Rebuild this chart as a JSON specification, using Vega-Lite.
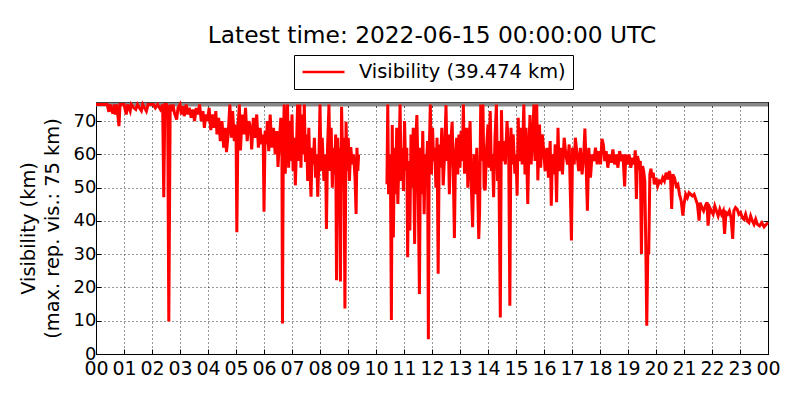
{
  "$schema": "https://vega.github.io/schema/vega-lite/v6.json",
  "width": 672,
  "height": 252,
  "autosize": {"type": "none"},
  "padding": {"left": 96, "top": 102, "right": 32, "bottom": 46},
  "config": {
    "font": "DejaVu Sans",
    "view": {"stroke": "black", "strokeWidth": 1},
    "axis": {
      "labelFont": "DejaVu Sans", "labelFontSize": 18, "labelColor": "black",
      "titleFont": "DejaVu Sans", "titleFontSize": 19.4, "titleFontWeight": "normal", "titleColor": "black",
      "domainColor": "black", "tickColor": "black", "tickSize": -5, "tickWidth": 1,
      "gridColor": "black", "gridDash": [1, 3], "gridOpacity": 0.8, "gridWidth": 1
    }
  },
  "title": {
    "text": "Latest time: 2022-06-15 00:00:00 UTC",
    "font": "DejaVu Sans", "fontSize": 23.3, "fontWeight": "normal", "color": "black",
    "anchor": "middle", "frame": "group", "baseline": "alphabetic", "offset": 14, "dy": 26
  },
  "layer": [
    {
      "data": {"values": [{}]},
      "mark": {"type": "rule", "color": "#888888", "strokeWidth": 4},
      "encoding": {
        "y": {"datum": 75, "type": "quantitative", "scale": {"domain": [0, 75.75], "nice": false},
          "axis": {"orient": "right", "values": [0,10,20,30,40,50,60,70], "labels": false, "grid": false, "title": null, "domain": false}}
      }
    },
    {
      "data": {"values": [
        {"h":0,"v":75},{"h":0.4,"v":75},{"h":0.46,"v":72.8},{"h":0.5,"v":75},{"h":0.6,"v":72.3},{"h":0.65,"v":75},{"h":0.69,"v":72},{"h":0.74,"v":75},{"h":0.82,"v":68.5},{"h":0.86,"v":75},{"h":1.0,"v":75},{"h":1.08,"v":72},{"h":1.13,"v":75},{"h":1.22,"v":73},{"h":1.26,"v":75},{"h":1.35,"v":74},{"h":1.42,"v":73.5},{"h":1.48,"v":75},{"h":1.55,"v":74},{"h":1.62,"v":73.1},{"h":1.67,"v":75},{"h":1.8,"v":73},{"h":1.86,"v":75},{"h":2.05,"v":75},{"h":2.12,"v":74},{"h":2.2,"v":75},{"h":2.3,"v":73.5},{"h":2.38,"v":75},{"h":2.42,"v":47.1},{"h":2.46,"v":75},{"h":2.52,"v":75},{"h":2.56,"v":74},{"h":2.6,"v":9.8},{"h":2.65,"v":75},
        {"h":2.7,"v":73},{"h":2.75,"v":75},{"h":2.8,"v":72.5},{"h":2.88,"v":70.5},{"h":2.93,"v":74},{"h":3.0,"v":75},{"h":3.05,"v":72},{"h":3.1,"v":74.5},{"h":3.15,"v":71.5},{"h":3.22,"v":75},{"h":3.28,"v":72},{"h":3.33,"v":74},{"h":3.4,"v":71},{"h":3.46,"v":73.5},{"h":3.52,"v":70},{"h":3.58,"v":74},{"h":3.64,"v":72},{"h":3.7,"v":75},{"h":3.76,"v":70},{"h":3.82,"v":73},{"h":3.87,"v":68},{"h":3.92,"v":72},{"h":3.98,"v":70},{"h":4.04,"v":74},{"h":4.1,"v":67.3},{"h":4.16,"v":72},{"h":4.22,"v":68},{"h":4.28,"v":73},{"h":4.32,"v":66},{"h":4.38,"v":71},{"h":4.44,"v":64},{"h":4.5,"v":70},{"h":4.56,"v":62},{"h":4.62,"v":68},{"h":4.66,"v":60.7},{"h":4.72,"v":66},{"h":4.78,"v":75},{"h":4.84,"v":65},{"h":4.88,"v":73},{"h":4.94,"v":64},{"h":5.0,"v":69},{"h":5.03,"v":36.6},{"h":5.07,"v":68},{"h":5.12,"v":75},{"h":5.16,"v":61.2},{"h":5.22,"v":72},{"h":5.28,"v":66},{"h":5.34,"v":74},{"h":5.4,"v":64},{"h":5.46,"v":70},{"h":5.52,"v":68},{"h":5.56,"v":61.5},{"h":5.62,"v":71},{"h":5.68,"v":65},{"h":5.74,"v":72},{"h":5.8,"v":62},{"h":5.86,"v":68},{"h":5.92,"v":63},{"h":5.97,"v":66},{"h":6.0,"v":42.8},{"h":6.04,"v":67},{"h":6.08,"v":63},{"h":6.12,"v":70},{"h":6.17,"v":61},{"h":6.22,"v":72},{"h":6.28,"v":62},{"h":6.34,"v":68},{"h":6.4,"v":60},{"h":6.46,"v":67},{"h":6.5,"v":56.2},{"h":6.55,"v":64},{"h":6.6,"v":71},{"h":6.64,"v":60},{"h":6.66,"v":9.2},{"h":6.69,"v":63},{"h":6.72,"v":75},{"h":6.76,"v":54.2},{"h":6.8,"v":68},{"h":6.84,"v":75},{"h":6.88,"v":56},{"h":6.92,"v":70},{"h":6.96,"v":58},{"h":7.0,"v":72},{"h":7.04,"v":55},{"h":7.08,"v":65},{"h":7.12,"v":50.7},{"h":7.16,"v":62},{"h":7.2,"v":75},{"h":7.24,"v":58},{"h":7.28,"v":75},{"h":7.32,"v":56},{"h":7.36,"v":72},{"h":7.4,"v":60},{"h":7.44,"v":75},{"h":7.48,"v":57.7},{"h":7.52,"v":66},{"h":7.56,"v":52},{"h":7.6,"v":68},{"h":7.64,"v":55},{"h":7.68,"v":47.3},{"h":7.72,"v":62},{"h":7.76,"v":57},{"h":7.8,"v":65},{"h":7.84,"v":53},{"h":7.88,"v":60},{"h":7.92,"v":47.3},{"h":7.96,"v":58},{"h":8.0,"v":75},{"h":8.04,"v":55},{"h":8.08,"v":65},{"h":8.14,"v":52},{"h":8.2,"v":60},{"h":8.23,"v":37.6},{"h":8.27,"v":62},{"h":8.32,"v":75},{"h":8.36,"v":55},{"h":8.4,"v":68},{"h":8.44,"v":50},{"h":8.48,"v":62},{"h":8.52,"v":54},{"h":8.56,"v":66},{"h":8.59,"v":22.2},{"h":8.63,"v":65},{"h":8.67,"v":54},{"h":8.7,"v":62},{"h":8.73,"v":21.8},{"h":8.77,"v":74.3},{"h":8.81,"v":58},{"h":8.85,"v":65},{"h":8.89,"v":13.7},{"h":8.93,"v":69.8},{"h":8.97,"v":55},{"h":9.01,"v":65},{"h":9.05,"v":52},{"h":9.1,"v":62.2},{"h":9.15,"v":57},{"h":9.2,"v":60},{"h":9.25,"v":53},{"h":9.29,"v":42.1},{"h":9.32,"v":62},{"h":9.35,"v":55},{"h":9.38,"v":60},
        {"h":9.9,"v":null},
        {"h":10.39,"v":51},{"h":10.42,"v":75},{"h":10.45,"v":48},{"h":10.48,"v":60},{"h":10.52,"v":49},{"h":10.55,"v":10.2},{"h":10.58,"v":68.8},{"h":10.62,"v":35},{"h":10.66,"v":62},{"h":10.7,"v":48},{"h":10.74,"v":68},{"h":10.78,"v":45.1},{"h":10.82,"v":60},{"h":10.86,"v":75},{"h":10.9,"v":52},{"h":10.94,"v":62},{"h":10.98,"v":49},{"h":11.02,"v":70},{"h":11.06,"v":55},{"h":11.1,"v":62},{"h":11.13,"v":29.1},{"h":11.17,"v":58},{"h":11.21,"v":37.1},{"h":11.25,"v":66},{"h":11.29,"v":50},{"h":11.33,"v":68},{"h":11.38,"v":33.1},{"h":11.42,"v":64},{"h":11.46,"v":71.8},{"h":11.5,"v":55},{"h":11.55,"v":18},{"h":11.59,"v":62},{"h":11.63,"v":48},{"h":11.67,"v":67},{"h":11.72,"v":42},{"h":11.76,"v":60},{"h":11.8,"v":55},{"h":11.84,"v":64},{"h":11.87,"v":4.4},{"h":11.9,"v":60},{"h":11.94,"v":75},{"h":11.98,"v":54},{"h":12.02,"v":68},{"h":12.06,"v":58},{"h":12.1,"v":62},{"h":12.14,"v":50},{"h":12.18,"v":65},{"h":12.22,"v":24.1},{"h":12.26,"v":63},{"h":12.3,"v":56},{"h":12.35,"v":68},{"h":12.4,"v":50.7},{"h":12.45,"v":60},{"h":12.5,"v":74.8},{"h":12.54,"v":58},{"h":12.58,"v":66},{"h":12.62,"v":48},{"h":12.66,"v":62},{"h":12.72,"v":69.8},{"h":12.76,"v":55},{"h":12.8,"v":34.9},{"h":12.84,"v":60},{"h":12.88,"v":65},{"h":12.92,"v":54},{"h":12.96,"v":66},{"h":13.0,"v":56},{"h":13.04,"v":67},{"h":13.08,"v":58},{"h":13.12,"v":75},{"h":13.16,"v":54.2},{"h":13.2,"v":64},{"h":13.24,"v":68},{"h":13.28,"v":50},{"h":13.32,"v":60},{"h":13.36,"v":70},{"h":13.4,"v":52},{"h":13.45,"v":38.1},{"h":13.5,"v":60},{"h":13.54,"v":48},{"h":13.6,"v":62},{"h":13.67,"v":34.6},{"h":13.7,"v":42.6},{"h":13.74,"v":75},{"h":13.78,"v":58},{"h":13.82,"v":75},{"h":13.86,"v":50},{"h":13.9,"v":49.2},{"h":13.95,"v":62},{"h":14.0,"v":69},{"h":14.04,"v":56},{"h":14.08,"v":73},{"h":14.12,"v":55},{"h":14.16,"v":60},{"h":14.2,"v":47.1},{"h":14.25,"v":65},{"h":14.3,"v":75},{"h":14.34,"v":52},{"h":14.38,"v":64},{"h":14.44,"v":11},{"h":14.48,"v":73.3},{"h":14.52,"v":58},{"h":14.58,"v":64},{"h":14.62,"v":57},{"h":14.68,"v":70},{"h":14.74,"v":60},{"h":14.78,"v":14.5},{"h":14.82,"v":68},{"h":14.86,"v":57},{"h":14.9,"v":66},{"h":14.96,"v":54.2},{"h":15.0,"v":60},{"h":15.04,"v":47.6},{"h":15.08,"v":71},{"h":15.12,"v":58},{"h":15.18,"v":68},{"h":15.22,"v":57},{"h":15.28,"v":75},{"h":15.32,"v":54},{"h":15.36,"v":68},{"h":15.42,"v":45.1},{"h":15.46,"v":62},{"h":15.5,"v":71.8},{"h":15.54,"v":57},{"h":15.6,"v":66},{"h":15.64,"v":75},{"h":15.68,"v":58},{"h":15.74,"v":75},{"h":15.78,"v":52.2},{"h":15.84,"v":69},{"h":15.88,"v":56},{"h":15.94,"v":66},{"h":16.0,"v":60},{"h":16.04,"v":55},{"h":16.1,"v":62},{"h":16.16,"v":53},{"h":16.22,"v":64},{"h":16.26,"v":44.6},{"h":16.3,"v":60},{"h":16.36,"v":54},{"h":16.4,"v":63},{"h":16.45,"v":45.6},{"h":16.5,"v":68},{"h":16.54,"v":55},{"h":16.6,"v":62},{"h":16.66,"v":54},{"h":16.72,"v":65},{"h":16.78,"v":60},{"h":16.84,"v":57},{"h":16.9,"v":63},{"h":16.98,"v":34.1},{"h":17.02,"v":62},{"h":17.08,"v":57},{"h":17.12,"v":65},{"h":17.18,"v":60},{"h":17.24,"v":55},{"h":17.3,"v":62},{"h":17.36,"v":54},{"h":17.42,"v":60},{"h":17.46,"v":67.8},{"h":17.5,"v":58},{"h":17.55,"v":43.1},{"h":17.6,"v":62},{"h":17.66,"v":53},{"h":17.72,"v":60},{"h":17.78,"v":58},{"h":17.84,"v":62},{"h":17.9,"v":57},{"h":17.96,"v":61},
        {"h":18.02,"v":57},{"h":18.07,"v":64.7},{"h":18.12,"v":63},{"h":18.17,"v":58},{"h":18.22,"v":61},{"h":18.28,"v":56},{"h":18.34,"v":60},{"h":18.4,"v":57.5},{"h":18.46,"v":61.5},{"h":18.52,"v":57},{"h":18.58,"v":60},{"h":18.64,"v":56},{"h":18.7,"v":61},{"h":18.76,"v":58},{"h":18.82,"v":60},{"h":18.88,"v":50.4},{"h":18.92,"v":60},{"h":18.98,"v":57},{"h":19.04,"v":60},{"h":19.1,"v":56},{"h":19.16,"v":59},{"h":19.22,"v":57},{"h":19.26,"v":61.2},{"h":19.3,"v":46.6},{"h":19.34,"v":59.5},{"h":19.4,"v":57},{"h":19.44,"v":58},{"h":19.48,"v":30.1},{"h":19.52,"v":56.5},{"h":19.56,"v":55},{"h":19.6,"v":52},{"h":19.64,"v":30},{"h":19.67,"v":8.5},{"h":19.71,"v":32},{"h":19.74,"v":30},{"h":19.78,"v":54},{"h":19.82,"v":55.7},{"h":19.86,"v":53},{"h":19.9,"v":54.5},{"h":19.94,"v":51},{"h":20.0,"v":53},{"h":20.06,"v":50.5},{"h":20.12,"v":52},{"h":20.18,"v":51.5},{"h":20.24,"v":53},{"h":20.3,"v":52},{"h":20.36,"v":54.5},{"h":20.42,"v":52.5},{"h":20.48,"v":55},{"h":20.52,"v":53},{"h":20.56,"v":43.6},{"h":20.6,"v":54},{"h":20.66,"v":53},{"h":20.72,"v":50.5},{"h":20.78,"v":51},{"h":20.84,"v":48},{"h":20.9,"v":46},{"h":20.96,"v":41.6},{"h":21.0,"v":45},{"h":21.06,"v":48},{"h":21.12,"v":47},{"h":21.18,"v":48.5},{"h":21.24,"v":48},{"h":21.3,"v":47.5},{"h":21.36,"v":48},{"h":21.42,"v":46.5},{"h":21.48,"v":45},{"h":21.54,"v":40.1},{"h":21.58,"v":45.5},{"h":21.64,"v":44},{"h":21.7,"v":43},{"h":21.76,"v":44.5},{"h":21.82,"v":45.6},{"h":21.86,"v":38.6},{"h":21.92,"v":44},{"h":21.98,"v":43},{"h":22.04,"v":42},{"h":22.1,"v":44.5},{"h":22.16,"v":43},{"h":22.22,"v":41.5},{"h":22.28,"v":43.5},{"h":22.34,"v":42},{"h":22.4,"v":43},{"h":22.45,"v":36.1},{"h":22.5,"v":42.5},{"h":22.56,"v":42},{"h":22.62,"v":43},{"h":22.68,"v":41},{"h":22.74,"v":34.6},{"h":22.78,"v":43},{"h":22.84,"v":44},{"h":22.9,"v":43.5},{"h":22.96,"v":42},{"h":23.02,"v":42.5},{"h":23.08,"v":41},{"h":23.14,"v":40.5},{"h":23.2,"v":42},{"h":23.26,"v":40},{"h":23.32,"v":39.5},{"h":23.38,"v":41.5},{"h":23.44,"v":40},{"h":23.5,"v":39},{"h":23.56,"v":40.5},{"h":23.62,"v":39},{"h":23.7,"v":38.5},{"h":23.78,"v":39.5},{"h":23.86,"v":38.2},{"h":23.94,"v":39},{"h":24.0,"v":39.474}
      ]},
      "mark": {"type": "line", "strokeWidth": 3, "invalid": "break-paths-show-domains"},
      "encoding": {
        "x": {"field": "h", "type": "quantitative", "scale": {"domain": [0, 24], "nice": false},
          "axis": {"orient": "bottom", "values": [0,1,2,3,4,5,6,7,8,9,10,11,12,13,14,15,16,17,18,19,20,21,22,23,24],
            "labelExpr": "(datum.value % 24) < 10 ? '0' + (datum.value % 24) : '' + (datum.value % 24)",
            "labelFontSize": 19, "labelPadding": 10, "labelFlush": false, "labelOverlap": false, "title": null, "grid": true}},
        "y": {"field": "v", "type": "quantitative", "scale": {"domain": [0, 75.75], "nice": false},
          "axis": {"orient": "left", "values": [0,10,20,30,40,50,60,70], "grid": true, "labelPadding": 5,
            "title": ["Visibility (km)", "(max. rep. vis.: 75 km)"], "titlePadding": 11, "titleLineHeight": 24}},
        "color": {"datum": "Visibility (39.474 km)", "type": "nominal",
          "scale": {"range": ["#ff0000"]},
          "legend": {"title": null, "orient": "none", "legendX": 198, "legendY": -47,
            "symbolType": "stroke", "symbolSize": 1764, "symbolStrokeWidth": 2.5, "clipHeight": 20,
            "labelFont": "DejaVu Sans", "labelFontSize": 19.4, "labelColor": "black", "labelOffset": 13, "labelLimit": 400,
            "strokeColor": "black", "fillColor": "white", "padding": 7, "cornerRadius": 0}}
      }
    },
    {
      "data": {"values": [{}]},
      "mark": {"type": "rule", "opacity": 0},
      "encoding": {
        "x": {"datum": 0, "type": "quantitative", "scale": {"domain": [0, 24], "nice": false},
          "axis": {"orient": "top", "values": [0,1,2,3,4,5,6,7,8,9,10,11,12,13,14,15,16,17,18,19,20,21,22,23,24], "labels": false, "grid": false, "title": null, "domain": false}}
      }
    }
  ],
  "resolve": {"scale": {"x": "independent", "y": "independent"}}
}
